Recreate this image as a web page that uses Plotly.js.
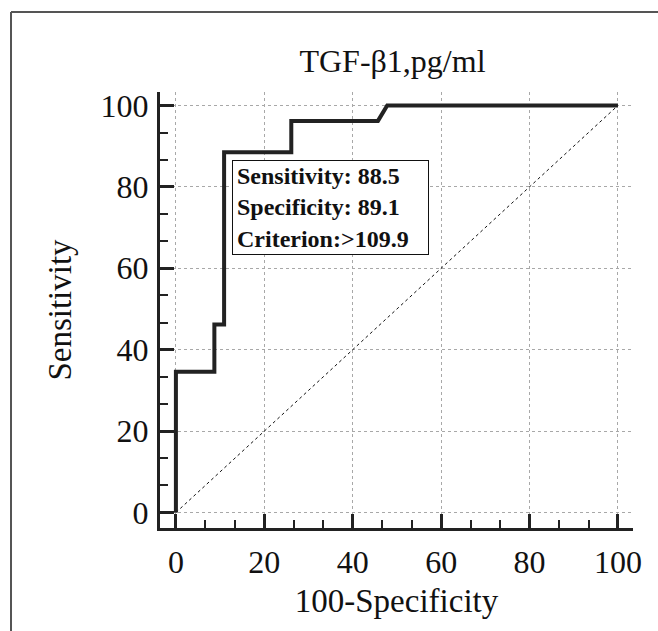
<!DOCTYPE html>
<html>
<head>
<meta charset="utf-8">
<script src="https://cdn.plot.ly/plotly-3.0.1.min.js"></script>
<style>html,body{margin:0;padding:0;background:#fff;}#chart{width:658px;height:631px;}</style>
</head>
<body>
<div id="chart"></div>
<script>
// ROC curve points (100-Specificity, Sensitivity)
const rocFpr = [0, 0, 8.7, 8.7, 10.9, 10.9, 26.1, 26.1, 45.7, 47.8, 100];
const rocTpr = [0, 34.6, 34.6, 46.2, 46.2, 88.5, 88.5, 96.2, 96.2, 100, 100];
// Reference (chance) diagonal
const diagX = [0, 100];
const diagY = [0, 100];
const tickVals = [0, 20, 40, 60, 80, 100];
const tickText = ['0', '20', '40', '60', '80', '100'];
const chartTitle = 'TGF-β1,pg/ml';
const xTitle = '100-Specificity';
const yTitle = 'Sensitivity';
const statLines = ['Sensitivity: 88.5', 'Specificity: 89.1', 'Criterion:>109.9'];

const serif = 'Liberation Serif, Times New Roman, serif';

const traces = [
  {x: diagX, y: diagY, mode: 'lines', line: {color: '#111', width: 1, dash: 'dot'}, hoverinfo: 'skip', showlegend: false},
  {x: rocFpr, y: rocTpr, mode: 'lines', line: {color: '#222', width: 4}, showlegend: false}
];

const axisCommon = {
  showline: true, linecolor: '#222', linewidth: 3, mirror: false,
  ticks: 'inside', ticklen: 14, tickwidth: 3, tickcolor: '#222',
  tickvals: tickVals, ticktext: tickText,
  showgrid: true, gridcolor: '#a8a8a8', gridwidth: 1, griddash: 'dot',
  zeroline: false,
  tickfont: {family: serif, size: 32, color: '#111'},
  minor: {ticks: 'inside', ticklen: 8, tickwidth: 2, tickcolor: '#222', dtick: 20/3, tick0: 0, showgrid: false},
  fixedrange: true
};

const layout = {
  width: 658, height: 631,
  margin: {l: 160, r: 25, t: 92, b: 103},
  paper_bgcolor: '#fff', plot_bgcolor: '#fff',
  title: {text: chartTitle, font: {family: serif, size: 32, color: '#111'}, xref: 'container', x: 0.5965, xanchor: 'center', yref: 'container', y: 0.903, yanchor: 'middle'},
  xaxis: Object.assign({}, axisCommon, {range: [-3.6, 103.4], ticklabelstandoff: 4,
    title: {text: xTitle, font: {family: serif, size: 33, color: '#111'}, standoff: 10}}),
  yaxis: Object.assign({}, axisCommon, {range: [-3.8, 103.3], ticklabelstandoff: 2,
    title: {text: yTitle, font: {family: serif, size: 33, color: '#111'}, standoff: 20}}),
  annotations: [{
    xref: 'x', yref: 'y', x: 12.7, y: 86.5, xanchor: 'left', yanchor: 'top',
    text: statLines.map(s => '<b>' + s + '</b>').join('<br>'),
    align: 'left', valign: 'middle', showarrow: false,
    font: {family: serif, size: 24, color: '#111'},
    bgcolor: '#fff', bordercolor: '#111', borderwidth: 1, borderpad: 4,
    width: 187, height: 85
  }],
  shapes: [
    {type: 'line', xref: 'paper', yref: 'paper', x0: -0.315, x1: 1.06, y0: 1.1835, y1: 1.1835, line: {color: '#555', width: 2}},
    {type: 'line', xref: 'paper', yref: 'paper', x0: -0.315, x1: -0.315, y0: -0.24, y1: 1.1835, line: {color: '#555', width: 2}}
  ]
};

Plotly.newPlot('chart', traces, layout, {displayModeBar: false, staticPlot: true});
</script>
</body>
</html>
